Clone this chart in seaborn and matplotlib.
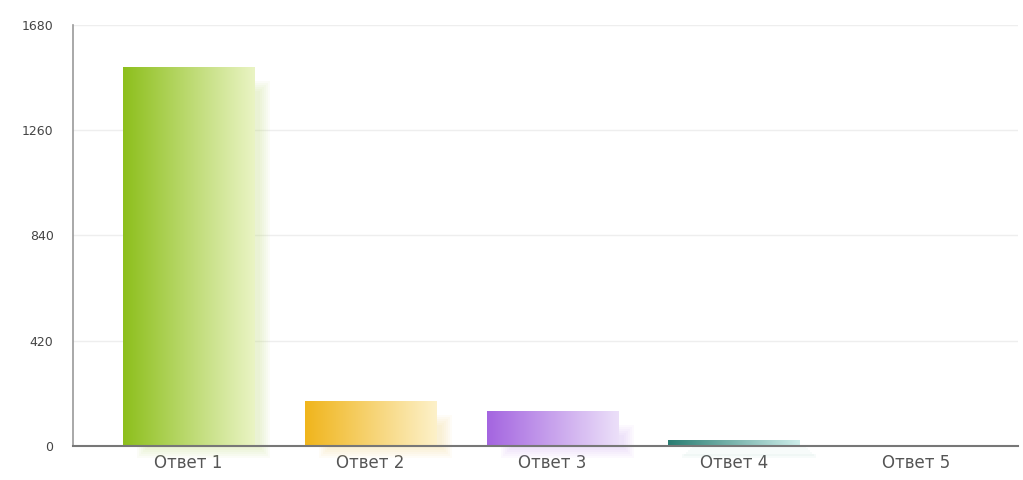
import numpy as np
import pandas as pd
import matplotlib
matplotlib.use("Agg")
import matplotlib.pyplot as plt
import matplotlib.colors as mcolors
from matplotlib.patches import Rectangle
import seaborn as sns

categories = ["Ответ 1", "Ответ 2", "Ответ 3", "Ответ 4", "Ответ 5"]
values = [1512, 180, 140, 24, 0]
dark_colors = ["#8dbf1c", "#f0b51c", "#a465e0", "#2a7d72", "#cccccc"]
light_colors = ["#eaf4c4", "#fdf1c9", "#ece0f9", "#cdeeea", "#ffffff"]
yticks = [0, 420, 840, 1260, 1680]

sns.set_theme(style="white")
plt.rcParams['font.family'] = ['DejaVu Sans']

fig = plt.figure(figsize=(10.23, 4.8), dpi=100)
ax = fig.add_axes([0.0714, 0.0708, 0.9236, 0.8772])

df = pd.DataFrame({"cat": categories, "val": values})
sns.barplot(data=df, x="cat", y="val", ax=ax, width=0.72, color="white",
            linewidth=0, saturation=1)

ax.set_ylim(0, 1680)
ax.set_xlim(-0.632, 4.56)
ax.set_yticks(yticks)
ax.set_yticklabels([str(t) for t in yticks], fontsize=9, color="#444444")
ax.set_xlabel("")
ax.set_ylabel("")
ax.tick_params(axis="x", labelsize=12, colors="#555555", length=0, pad=6)
ax.tick_params(axis="y", length=0, pad=14)
ax.grid(axis="y", color="#eeeeee", linewidth=1)
ax.set_axisbelow(True)
for s in ["top", "right"]:
    ax.spines[s].set_visible(False)
ax.spines["left"].set_color("#999999")
ax.spines["left"].set_linewidth(1.2)
ax.spines["bottom"].set_color("#777777")
ax.spines["bottom"].set_linewidth(1.5)
ax.spines["bottom"].set_zorder(5)

xpx = (4.56 + 0.632) / (0.9236 * 1023)
ypx = 1680 / (0.8772 * 480)

for i, p in enumerate(ax.patches):
    x0, w = p.get_x(), p.get_width()
    h = p.get_height()
    if h <= 0:
        continue
    dark = np.array(mcolors.to_rgb(dark_colors[i]))
    light = np.array(mcolors.to_rgb(light_colors[i]))
    shcol = tuple(0.45 * dark + 0.55 * light)
    # soft shadow: layered translucent rectangles offset right/down
    for k in range(6):
        shrink = k * 2.0
        sh = Rectangle((x0 + 14 * xpx + shrink * xpx, -12 * ypx + shrink * ypx),
                       w + 2 * xpx - 2 * shrink * xpx,
                       max(h - 2 * ypx - 2 * shrink * ypx, 2 * ypx),
                       facecolor=shcol, alpha=0.06,
                       edgecolor="none", clip_on=False, zorder=1)
        ax.add_patch(sh)
    # horizontal gradient
    t = np.linspace(0, 1, 256)[None, :, None]
    grad = dark[None, None, :] * (1 - t) + light[None, None, :] * t
    im = ax.imshow(grad, extent=[x0, x0 + w, 0, h], aspect="auto",
                   origin="lower", zorder=3, interpolation="bilinear")
    p.set_zorder(2)
    im.set_clip_path(p)
    ax.set_xlim(-0.632, 4.56)
    ax.set_ylim(0, 1680)

fig.savefig("out.png", dpi=100)
